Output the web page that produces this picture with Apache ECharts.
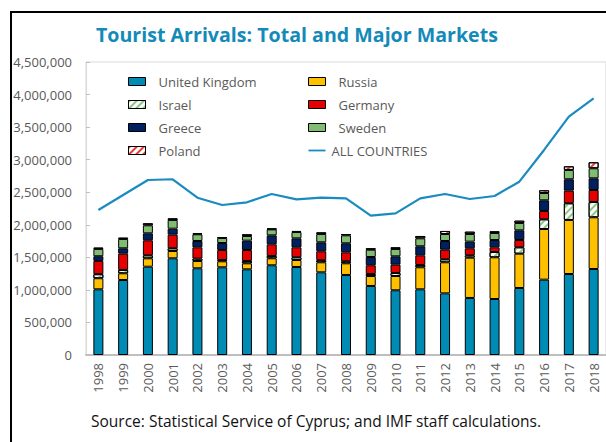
<!DOCTYPE html>
<html>
<head>
<meta charset="utf-8">
<script src="https://cdn.jsdelivr.net/npm/echarts@6/dist/echarts.min.js"></script>
<style>
    html, body { margin: 0; padding: 0; background: #fff; }
    #chart { width: 606px; height: 442px; }
</style>
</head>
<body>
<div id="chart"></div>
<script>
    // values
    var years = ['1998', '1999', '2000', '2001', '2002', '2003', '2004', '2005', '2006', '2007', '2008',
        '2009', '2010', '2011', '2012', '2013', '2014', '2015', '2016', '2017', '2018'];
    var unitedKingdom = [1009000, 1152000, 1356000, 1485000, 1332000, 1347000, 1316000, 1378000, 1352000, 1270000, 1229000,
        1060000, 994000, 1009000, 947000, 876000, 860000, 1029000, 1157000, 1244000, 1321000];
    var russia = [170000, 103000, 129000, 112000, 112000, 92000, 92000, 107000, 107000, 154000, 179000,
        153000, 219000, 338000, 477000, 619000, 641000, 527000, 778000, 830000, 794000];
    var israel = [62000, 51000, 46000, 42000, 36000, 20000, 36000, 36000, 42000, 31000, 31000,
        31000, 47000, 35000, 46000, 36000, 81000, 98000, 149000, 256000, 235000];
    var germany = [204000, 250000, 231000, 209000, 174000, 154000, 169000, 179000, 153000, 138000, 138000,
        134000, 127000, 149000, 147000, 108000, 72000, 112000, 128000, 194000, 184000];
    var greece = [72000, 83000, 107000, 92000, 97000, 107000, 143000, 138000, 138000, 138000, 139000,
        127000, 129000, 139000, 134000, 102000, 112000, 149000, 164000, 175000, 180000];
    var sweden = [112000, 143000, 123000, 134000, 103000, 77000, 72000, 92000, 97000, 127000, 122000,
        112000, 112000, 122000, 107000, 117000, 108000, 113000, 112000, 143000, 154000];
    var poland = [20000, 20000, 31000, 25000, 15000, 15000, 26000, 10000, 16000, 26000, 20000,
        22000, 26000, 36000, 47000, 36000, 26000, 35000, 42000, 56000, 92000];
    var allCountries = [2227000, 2458000, 2688000, 2699000, 2416000, 2304000, 2345000, 2473000, 2391000, 2416000, 2406000,
        2140000, 2176000, 2406000, 2473000, 2396000, 2442000, 2662000, 3149000, 3660000, 3943000];

    var font = '"Open Sans", sans-serif';
    var grey = '#595959';
    var lineBlue = '#1a8bc0';

    function hatch(color) {
        return {
            symbol: 'rect',
            symbolSize: 1,
            color: color,
            backgroundColor: '#ffffff',
            dashArrayX: [1, 0],
            dashArrayY: [2, 3],
            rotation: -Math.PI / 4
        };
    }

    function barSeries(name, data, color, decal) {
        var style = { color: color, borderColor: '#000', borderWidth: 1 };
        if (decal) {
            style.decal = decal;
        }
        return {
            name: name,
            type: 'bar',
            stack: 'markets',
            barWidth: 10,
            data: data,
            itemStyle: style
        };
    }

    var chart = echarts.init(document.getElementById('chart'), null, { renderer: 'svg' });

    var legendText = { fontFamily: font, fontSize: 13, color: grey, lineHeight: 16, padding: [0, 0, 0, 8] };

    chart.setOption({
        animation: false,
        textStyle: { fontFamily: font },
        graphic: [
            {
                type: 'rect',
                shape: { x: 11, y: 12, width: 700, height: 500 },
                style: { fill: 'none', stroke: '#000', lineWidth: 2 },
                silent: true
            },
            {
                type: 'text',
                left: 91,
                top: 413,
                style: { text: 'Source: Statistical Service of Cyprus; and IMF staff calculations.', font: '15.5px ' + font, fill: '#111' }
            }
        ],
        title: {
            text: 'Tourist Arrivals: Total and Major Markets',
            left: 96,
            top: 24,
            padding: 0,
            textStyle: { fontFamily: font, fontSize: 19.6, fontWeight: 'bold', color: '#138ab8' }
        },
        legend: [
            {
                orient: 'vertical',
                left: 128,
                top: 73.5,
                padding: 0,
                icon: 'rect',
                itemWidth: 17,
                itemHeight: 8,
                itemGap: 7,
                itemStyle: { borderWidth: 1 },
                textStyle: legendText,
                data: ['United Kingdom', 'Israel', 'Greece', 'Poland']
            },
            {
                orient: 'vertical',
                left: 308,
                top: 73.5,
                padding: 0,
                icon: 'rect',
                itemWidth: 17,
                itemHeight: 8,
                itemGap: 7,
                itemStyle: { borderWidth: 1 },
                textStyle: legendText,
                data: ['Russia', 'Germany', 'Sweden',
                    {
                        name: 'ALL COUNTRIES',
                        icon: 'path://M0,0H19V2H0Z',
                        itemStyle: { color: lineBlue, borderWidth: 0 },
                        textStyle: { padding: [0, 0, 0, 1] }
                    }]
            }
        ],
        grid: {
            left: 86,
            top: 62,
            width: 525,
            bottom: 87,
            show: true,
            borderColor: '#d9d9d9',
            borderWidth: 1
        },
        xAxis: {
            type: 'category',
            data: years,
            axisLine: { lineStyle: { color: '#bfbfbf', width: 2 } },
            axisTick: { inside: true, length: 4, lineStyle: { color: '#bfbfbf' } },
            axisLabel: { rotate: 90, margin: 8, fontSize: 13, color: grey, fontFamily: font }
        },
        yAxis: {
            type: 'value',
            min: 0,
            max: 4500000,
            interval: 500000,
            splitLine: { show: false },
            axisLine: { show: true, lineStyle: { color: '#d9d9d9' } },
            axisTick: { show: true, inside: true, length: 4, lineStyle: { color: '#bfbfbf' } },
            axisLabel: {
                margin: 14,
                fontSize: 13,
                color: grey,
                fontFamily: font,
                formatter: function (v) { return v.toLocaleString('en-US'); }
            }
        },
        series: [
            barSeries('United Kingdom', unitedKingdom, '#008bb5'),
            barSeries('Russia', russia, '#ffc000'),
            barSeries('Israel', israel, '#ffffff', hatch('#8cc884')),
            barSeries('Germany', germany, '#e60000'),
            barSeries('Greece', greece, '#002060'),
            barSeries('Sweden', sweden, '#80bd72'),
            barSeries('Poland', poland, '#ffffff', hatch('#e83a3a')),
            {
                name: 'ALL COUNTRIES',
                type: 'line',
                data: allCountries,
                symbol: 'none',
                z: 5,
                lineStyle: { color: lineBlue, width: 2.2 },
                itemStyle: { color: lineBlue }
            }
        ]
    });
</script>
</body>
</html>
